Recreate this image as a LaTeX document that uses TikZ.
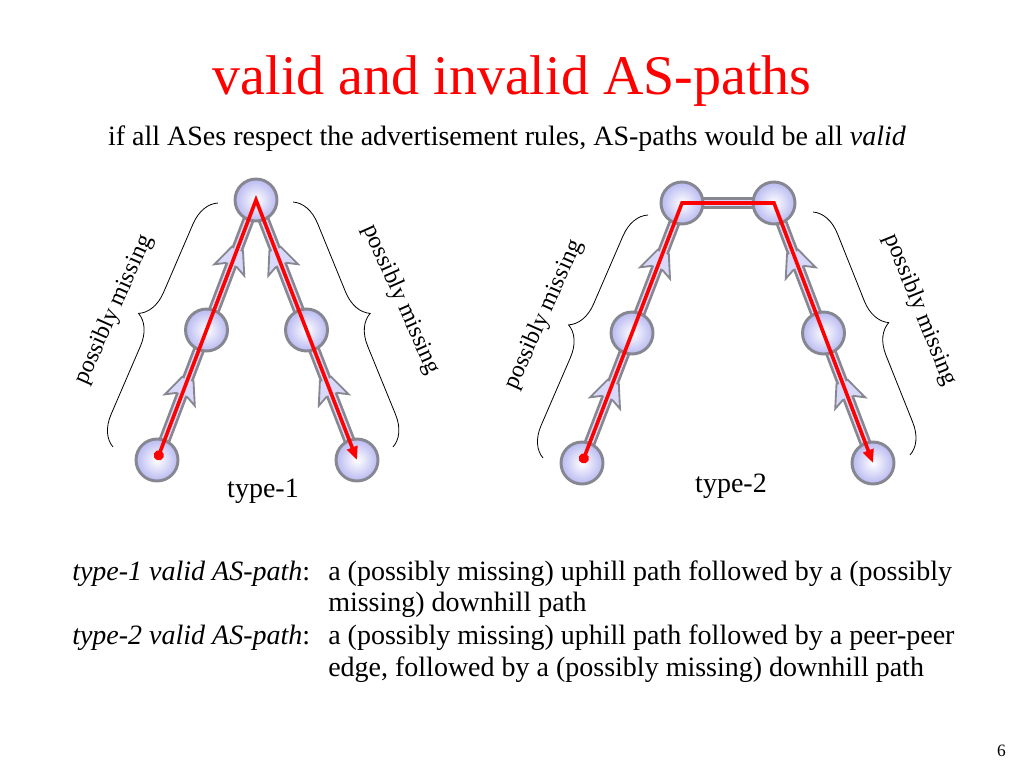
\documentclass[tikz,border=0pt]{standalone}
\usepackage{fontspec}
\setmainfont{Liberation Serif}
\usetikzlibrary{arrows.meta,decorations.pathreplacing,decorations.markings,backgrounds}

\definecolor{asblue}{RGB}{185,185,242}
\definecolor{bandfill}{RGB}{216,216,250}
\definecolor{edgegray}{RGB}{135,135,145}

\tikzset{
  asnode/.style={circle,minimum size=31.5pt,inner sep=0pt,draw=edgegray,line width=2.2pt,inner color=white,outer color=asblue},
  peeredge/.style={draw=edgegray,line width=9pt,postaction={draw=bandfill,line width=5pt}},
  upedge/.style={draw=edgegray,line width=9pt,
    postaction={decorate,decoration={markings,mark=at position 0.5 with {\draw[draw=edgegray,fill=bandfill,line width=1.4pt,line join=miter] (0pt,4.5pt) -- (-4pt,12pt) -- (13pt,4.5pt) -- (13pt,-4.5pt) -- (-4pt,-12pt) -- (0pt,-4.5pt) -- cycle;}}},
    postaction={draw=bandfill,line width=5pt}},
  aspath/.style={draw=red,line width=2.7pt,{Circle[length=7.5pt]}-{Triangle[length=10pt,width=8pt]}},
  missbrace/.style={draw=black,line width=0.6pt,decorate,decoration={brace,amplitude=22pt,aspect=0.5}},
  misslabel/.style={font=\fontsize{18}{21}\selectfont,inner sep=0pt},
  bodytext/.style={font=\fontsize{21}{25}\selectfont,anchor=base west,inner sep=0pt},
}

\begin{document}
\begin{tikzpicture}[x=0.75pt,y=0.75pt,yscale=-1,xscale=1]
\useasboundingbox (0,0) rectangle (1024,768);

% Text Node
\node [font=\fontsize{42}{50}\selectfont,text=red,anchor=base,inner sep=0pt] (title) at (512,94) {valid and invalid AS-paths};
% Text Node
\node [font=\fontsize{21}{25}\selectfont,anchor=base,inner sep=0pt] (sub) at (507,145) {if all ASes respect the advertisement rules, AS-paths would be all \textit{valid}};

%Shape: Circle [type-1]
\node [asnode] (a1) at (157,460) {};
\node [asnode] (a2) at (206.5,330) {};
\node [asnode] (a3) at (256,200) {};
\node [asnode] (a4) at (306.5,330) {};
\node [asnode] (a5) at (357,460) {};
%Shape: Circle [type-2]
\node [asnode] (b1) at (582,463) {};
\node [asnode] (b2) at (632,333) {};
\node [asnode] (b3) at (682,203) {};
\node [asnode] (b4) at (774,203) {};
\node [asnode] (b5) at (823.5,333) {};
\node [asnode] (b6) at (873,463) {};

\begin{scope}[on background layer]
%Edges [customer to provider]
\draw [upedge] (a1.center) -- (a2.center) ;
\draw [upedge] (a2.center) -- (a3.center) ;
\draw [upedge] (a5.center) -- (a4.center) ;
\draw [upedge] (a4.center) -- (a3.center) ;
\draw [upedge] (b1.center) -- (b2.center) ;
\draw [upedge] (b2.center) -- (b3.center) ;
\draw [upedge] (b6.center) -- (b5.center) ;
\draw [upedge] (b5.center) -- (b4.center) ;
%Edge [peer-peer]
\draw [peeredge] (b3.center) -- (b4.center) ;
\end{scope}

%Red paths
\draw [aspath] (a1.center) -- (a3.center) -- (a5.center) ;
\draw [aspath] (b1.center) -- (b3.center) -- (b4.center) -- (b6.center) ;

%Braces
\coordinate (la1) at (113,447); \coordinate (la2) at (218,203);
\coordinate (ra1) at (293,202); \coordinate (ra2) at (393,447);
\coordinate (lb1) at (543,458); \coordinate (lb2) at (648,215);
\coordinate (rb1) at (813,212); \coordinate (rb2) at (910,455);
\draw [missbrace] (la1) -- (la2) ;
\draw [missbrace] (ra1) -- (ra2) ;
\draw [missbrace] (lb1) -- (lb2) ;
\draw [missbrace] (rb1) -- (rb2) ;

% Text Node
\node [misslabel,rotate=66] (m1) at (114,310) {possibly missing};
% Text Node
\node [misslabel,rotate=-66] (m2) at (401,300) {possibly missing};
% Text Node
\node [misslabel,rotate=66] (m3) at (544,315) {possibly missing};
% Text Node
\node [misslabel,rotate=-68] (m4) at (920,310) {possibly missing};
% Text Node
\node [font=\fontsize{21}{25}\selectfont,anchor=base,inner sep=0pt] (t1) at (263,497) {type-1};
% Text Node
\node [font=\fontsize{21}{25}\selectfont,anchor=base,inner sep=0pt] (t2) at (731,492) {type-2};

% Text Node
\node [bodytext] (d1) at (72,580) {\textit{type-1 valid AS-path}:};
\node [bodytext] (e1) at (328,580) {a (possibly missing) uphill path followed by a (possibly};
\node [bodytext] (e2) at (328,611) {missing) downhill path};
\node [bodytext] (d2) at (72,644) {\textit{type-2 valid AS-path}:};
\node [bodytext] (e3) at (328,644) {a (possibly missing) uphill path followed by a peer-peer};
\node [bodytext] (e4) at (328,676) {edge, followed by a (possibly missing) downhill path};
% Text Node
\node [font=\fontsize{13}{15}\selectfont,anchor=base east,inner sep=0pt] (pg) at (1006,756) {6};

\end{tikzpicture}
\end{document}
